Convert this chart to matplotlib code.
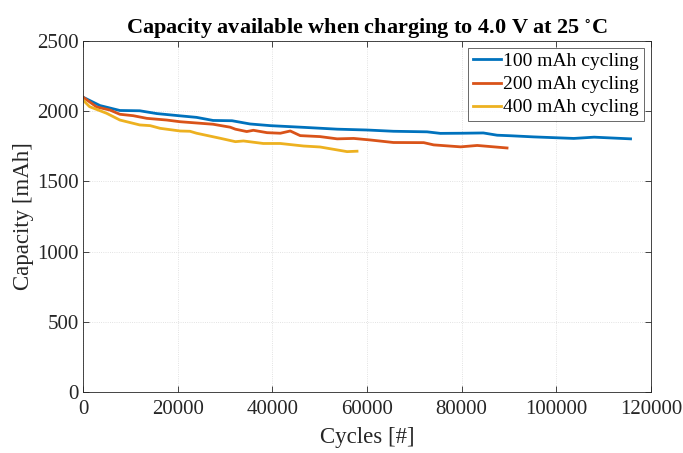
import matplotlib
matplotlib.use("Agg")
import matplotlib.pyplot as plt

# ---------------------------------------------------------------------------
# Data
# ---------------------------------------------------------------------------
cyc_100 = [0, 3600, 7800, 12000, 15600, 20500, 24000, 27500, 31500, 35300,
           39600, 46600, 53700, 60000, 65600, 72700, 75500, 80000, 84600,
           87500, 90400, 95200, 103700, 108000, 115700]
cap_100 = [2100, 2040, 2005, 2003, 1983, 1967, 1956, 1934, 1932, 1909,
           1897, 1885, 1872, 1866, 1857, 1853, 1842, 1843, 1845,
           1829, 1825, 1817, 1806, 1815, 1803]

cyc_200 = [0, 2900, 5700, 7800, 10600, 13500, 17700, 20500, 27500, 31100,
           32200, 34600, 36000, 38900, 41700, 43800, 45900, 50100, 53700,
           57200, 60700, 65600, 72000, 74100, 79800, 83300, 89600]
cap_200 = [2100, 2030, 2008, 1978, 1968, 1949, 1937, 1925, 1907, 1886,
           1872, 1855, 1864, 1847, 1843, 1859, 1826, 1819, 1803,
           1806, 1795, 1777, 1776, 1760, 1746, 1756, 1738]

cyc_400 = [0, 1400, 5000, 7800, 12000, 14200, 16300, 20500, 22600, 24000,
           29000, 32200, 33900, 38100, 41700, 46600, 50100, 55800, 57900]
cap_400 = [2080, 2032, 1985, 1937, 1902, 1897, 1878, 1859, 1857, 1843,
           1807, 1783, 1788, 1770, 1770, 1752, 1745, 1712, 1715]

labels = ["100 mAh cycling", "200 mAh cycling", "400 mAh cycling"]
colors = ["#0072BD", "#D95319", "#EDB120"]

x_ticks = [0, 20000, 40000, 60000, 80000, 100000, 120000]
y_ticks = [0, 500, 1000, 1500, 2000, 2500]

# ---------------------------------------------------------------------------
# Figure
# ---------------------------------------------------------------------------
plt.rcParams["font.family"] = ["Liberation Serif", "DejaVu Serif"]
plt.rcParams["mathtext.fontset"] = "stix"

fig = plt.figure(figsize=(6.83, 4.53), dpi=100)
ax = fig.add_axes([0.1215, 0.1347, 0.8315, 0.7748])

for xs, ys, lab, col in zip([cyc_100, cyc_200, cyc_400],
                            [cap_100, cap_200, cap_400], labels, colors):
    ax.plot(xs, ys, color=col, lw=2.0, label=lab)

ax.set_xlim(0, 120000)
ax.set_ylim(0, 2500)
ax.set_xticks(x_ticks)
ax.set_yticks(y_ticks)
ax.set_xticklabels([str(t) for t in x_ticks])
ax.grid(True, color="#d9d9d9", lw=0.6, ls=":")
ax.tick_params(direction="in", top=True, right=True, labelsize=15,
               colors="#262626", length=4, width=0.6)
ax.tick_params(axis="x", pad=5.5)
ax.tick_params(axis="y", pad=3)
for sp in ax.spines.values():
    sp.set_color("#262626")
    sp.set_linewidth(0.6)

ax.set_xlabel("Cycles [#]", fontsize=16.5, color="#262626", labelpad=6)
ax.set_ylabel("Capacity [mAh]", fontsize=16.5, color="#262626", labelpad=2)
ax.set_title(r"Capacity available when charging to 4.0 V at 25 $^{\circ}$C",
             fontsize=16, fontweight="bold", pad=6)

leg = ax.legend(loc="upper right", fontsize=14, frameon=True, fancybox=False,
                handlelength=1.4, handletextpad=0.15, borderpad=0.25,
                labelspacing=0.28, borderaxespad=0.35)
leg.get_frame().set_edgecolor("#262626")
leg.get_frame().set_linewidth(0.6)

fig.savefig("out.png", dpi=100)
